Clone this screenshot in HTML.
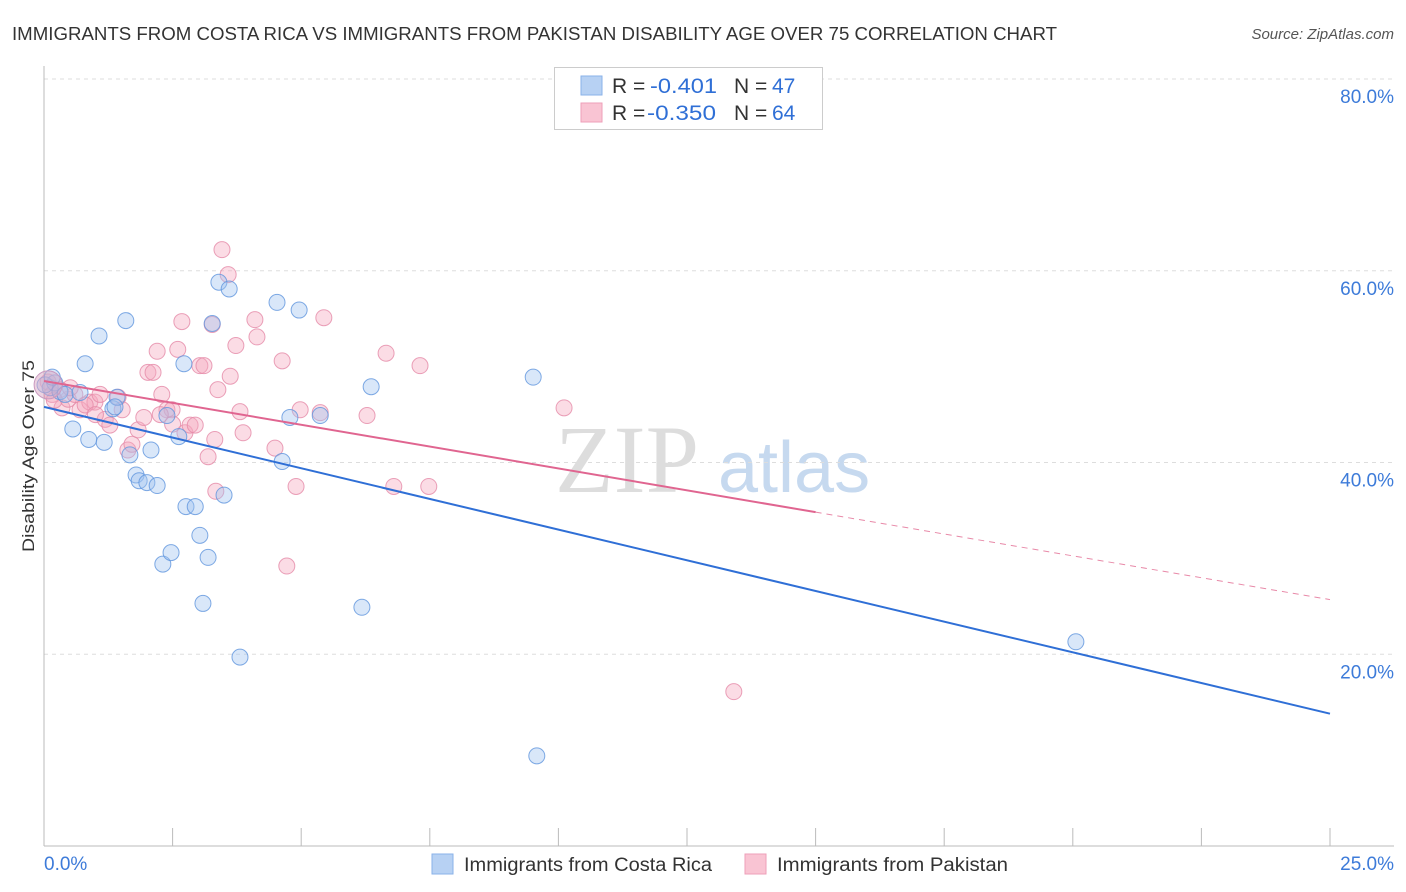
<!DOCTYPE html>
<html><head><meta charset="utf-8"><style>
body{margin:0;background:#fff;font-family:"Liberation Sans",sans-serif;}
#wrap{position:relative;width:1406px;height:892px;overflow:hidden;}
</style></head><body>
<div id="wrap">
<svg id="svg" width="1406" height="892">
<text x="12" y="40" font-size="18" fill="#333" textLength="1045" lengthAdjust="spacingAndGlyphs">IMMIGRANTS FROM COSTA RICA VS IMMIGRANTS FROM PAKISTAN DISABILITY AGE OVER 75 CORRELATION CHART</text>
<text x="1394" y="39" font-size="15" fill="#555" text-anchor="end" font-style="italic">Source: ZipAtlas.com</text>
<text x="555" y="492" font-size="96" fill="#ddd" font-family="Liberation Serif">ZIP</text>
<text x="718" y="492" font-size="72" fill="#c6d9ef">atlas</text>
<text x="34" y="456" font-size="17" fill="#333" text-anchor="middle" textLength="192" lengthAdjust="spacingAndGlyphs" transform="rotate(-90 34 456)">Disability Age Over 75</text>
<g id="grid"></g><g id="marks"></g>
<g>
<rect x="554.5" y="67.5" width="268" height="62" fill="#fff" stroke="#ccc"/>
<rect x="581" y="76" width="21" height="19" fill="#b7d1f3" stroke="#8ab2e8"/>
<rect x="581" y="103" width="21" height="19" fill="#f9c4d3" stroke="#ee9fb8"/>
<text y="93" font-size="21" fill="#333"><tspan x="612">R =</tspan><tspan x="650" fill="#2f6fd6" textLength="67" lengthAdjust="spacingAndGlyphs">-0.401</tspan><tspan x="734">N =</tspan><tspan x="772" fill="#2f6fd6">47</tspan></text>
<text y="120" font-size="21" fill="#333"><tspan x="612">R =</tspan><tspan x="647" fill="#2f6fd6" textLength="69" lengthAdjust="spacingAndGlyphs">-0.350</tspan><tspan x="734">N =</tspan><tspan x="772" fill="#2f6fd6">64</tspan></text>
</g>
<g>
<rect x="432" y="854" width="21" height="20" fill="#b7d1f3" stroke="#8ab2e8"/>
<text x="464" y="871" font-size="19" fill="#333" textLength="248" lengthAdjust="spacingAndGlyphs">Immigrants from Costa Rica</text>
<rect x="745" y="854" width="21" height="20" fill="#f9c4d3" stroke="#ee9fb8"/>
<text x="777" y="871" font-size="19" fill="#333" textLength="231" lengthAdjust="spacingAndGlyphs">Immigrants from Pakistan</text>
</g>
</svg>
</div>
<script>
const blueX=[0.12,0.21,0.31,0.41,0.56,0.80,0.87,1.07,1.17,1.34,1.42,1.59,1.67,1.79,1.85,2.00,2.08,2.20,2.31,2.47,2.39,2.62,2.72,2.76,2.94,3.03,3.09,3.19,3.27,3.40,3.50,3.60,3.81,4.53,4.63,4.78,4.96,5.37,6.18,6.36,9.51,9.58,20.06,0.02,0.16,0.70,1.38];
const blueY=[47.8,48.3,47.4,47.1,43.5,50.3,42.4,53.2,42.1,45.6,46.8,54.8,40.8,38.7,38.1,37.9,41.3,37.6,29.4,30.6,44.9,42.7,50.3,35.4,35.4,32.4,25.3,30.1,54.5,58.8,36.6,58.1,19.7,56.7,40.1,44.7,55.9,44.9,24.9,47.9,48.9,9.4,21.3,48.1,48.9,47.3,45.8];
const pinkX=[0.08,0.16,0.35,0.47,0.60,0.70,0.89,0.99,1.09,1.19,1.28,1.44,1.52,1.63,1.71,1.83,1.94,2.02,2.12,2.20,2.29,2.39,2.49,2.60,2.68,2.74,2.84,2.94,3.03,3.11,3.19,3.27,3.34,3.38,3.46,3.58,3.62,3.73,3.81,3.87,4.10,4.14,4.49,4.63,4.72,4.90,4.98,5.37,5.44,6.28,6.65,6.80,7.31,7.48,10.11,13.41,0.31,0.51,0.80,2.26,3.32,1.0,2.5,0.2];
const pinkY=[48.4,47.1,45.7,46.6,47.1,45.5,46.3,46.3,47.1,44.5,43.9,46.8,45.5,41.3,41.9,43.4,44.7,49.4,49.4,51.6,47.1,45.5,45.5,51.8,54.7,43.1,43.9,43.9,50.1,50.1,40.6,54.4,37.0,47.6,62.2,59.6,49.0,52.2,45.3,43.1,54.9,53.1,41.5,50.6,29.2,37.5,45.5,45.2,55.1,44.9,51.4,37.5,50.1,37.5,45.7,16.1,47.6,47.8,46.0,45.0,42.4,45.0,44.0,46.5];
const blueTrend=[45.8,13.8];
const pinkTrend=[48.5,25.7];
const pinkSolidEnd=15.0;
const yTicks=[20,40,60,80];
const xTickCount=11;
const X=v=>44+v*(1330-44)/25, Y=v=>846-v*(846-79)/80;
const NS="http://www.w3.org/2000/svg";
const grid=document.getElementById('grid'), marks=document.getElementById('marks');
function mk(tag,attrs,parent){const e=document.createElementNS(NS,tag);for(const k in attrs)e.setAttribute(k,attrs[k]);parent.appendChild(e);return e;}
yTicks.forEach(t=>{
 const l=mk('line',{x1:44,x2:1394,y1:Y(t),y2:Y(t),stroke:'#ddd','stroke-dasharray':'4,4'},grid);
 
 
 const tx=mk('text',{x:1394,y:Y(t)+24,'font-size':19,fill:'#3d7bd9','text-anchor':'end'},grid);
 tx.textContent=t.toFixed(1)+'%';
 
 
});
mk('line',{x1:44,x2:44,y1:66,y2:846,stroke:'#bbb'},grid);
const xa=mk('line',{x1:44,x2:1394,y1:846,y2:846,stroke:'#bbb'},grid);


for(let i=0;i<xTickCount;i++){const x=X(i*2.5);mk('line',{x1:x,x2:x,y1:828,y2:846,stroke:'#bbb'},grid);}
const x0=mk('text',{x:44,y:870,'font-size':19,fill:'#3d7bd9'},grid);x0.textContent='0.0%';


const x1=mk('text',{x:1394,y:870,'font-size':19,fill:'#3d7bd9','text-anchor':'end'},grid);x1.textContent='25.0%';


function dots(xs,ys,fill,stroke,name){xs.forEach((v,i)=>{
 const c=mk('circle',{cx:X(v),cy:Y(ys[i]),r:8,fill:fill,'fill-opacity':0.4,stroke:stroke,'stroke-width':1,'stroke-opacity':0.8},marks);
 
 
});}
dots(pinkX,pinkY,'#f5a8bf','#e58aa8','pakistan');
dots(blueX,blueY,'#9fc2ef','#5f95dd','costa-rica');
const big=mk('circle',{cx:X(0.08),cy:Y(48.1),r:14,fill:'#d9a8c4','fill-opacity':0.5,stroke:'#c99ac0'},marks);


const py=x=>pinkTrend[0]+(pinkTrend[1]-pinkTrend[0])*x/25;
const bl=mk('line',{x1:X(0),y1:Y(blueTrend[0]),x2:X(25),y2:Y(blueTrend[1]),stroke:'#2f6fd6','stroke-width':2},marks);


const pl=mk('line',{x1:X(0),y1:Y(py(0)),x2:X(pinkSolidEnd),y2:Y(py(pinkSolidEnd)),stroke:'#e06590','stroke-width':2},marks);


const pd=mk('line',{x1:X(pinkSolidEnd),y1:Y(py(pinkSolidEnd)),x2:X(25),y2:Y(py(25)),stroke:'#e889a8','stroke-width':1,'stroke-dasharray':'6,5'},marks);


</script>
</body></html>
